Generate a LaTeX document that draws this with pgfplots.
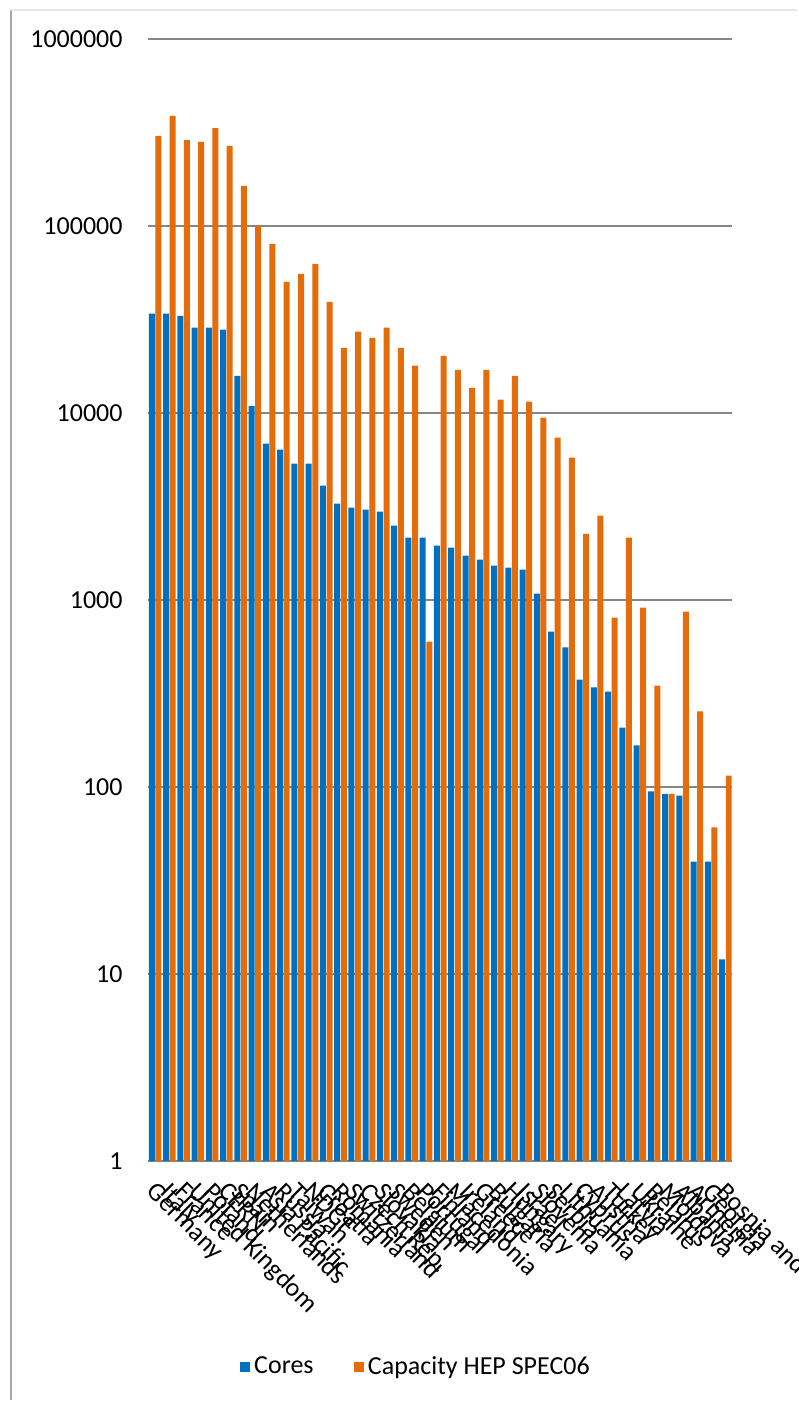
\documentclass[border=0pt]{standalone}
\usepackage{pgfplots}
\pgfplotsset{compat=1.18}
\usepackage{pgfplotstable}
\usepackage{fontspec}
\setmainfont{Carlito}
\definecolor{cblue}{RGB}{0,112,192}
\definecolor{corange}{RGB}{228,108,10}
\definecolor{gridc}{RGB}{134,134,134}
\pgfplotstableread{
x cores cap
0 34000 303000
1 34000 388000
2 33100 288000
3 28600 282000
4 28600 334000
5 27900 268000
6 15800 164000
7 10900 100000
8 6860 80300
9 6370 50300
10 5360 55500
11 5360 62800
12 4090 39300
13 3280 22300
14 3120 27200
15 3040 25200
16 2970 28600
17 2500 22300
18 2160 17900
19 2160 600
20 1955 20200
21 1907 17000
22 1730 13650
23 1645 17000
24 1528 11800
25 1492 15800
26 1456 11500
27 1083 9440
28 679 7380
29 558 5770
30 376 2260
31 341 2830
32 324 806
33 208 2160
34 167 912
35 95 349
36 92 92
37 90 868
38 40 254
39 40 61
40 12 115
}\datatable
\begin{document}
\begin{tikzpicture}
\begin{axis}[
  at={(74pt,119.5pt)}, anchor=south west,
  scale only axis, width=292.5pt, height=561.5pt,
  ymode=log, ymin=1, ymax=1000000,
  xmin=-0.5, xmax=40.5,
  ybar, bar width=3pt,
  ytick={1,10,100,1000,10000,100000,1000000},
  yticklabels={1,10,100,1000,10000,100000,1000000},
  yminorticks=false,
  ymajorgrids, major grid style={draw=gridc, line width=0.7pt},
  axis x line*=bottom, axis y line*=left,
  x axis line style={draw=gridc, line width=0.7pt},
  y axis line style={draw=none},
  xtick={0,...,40},
  xticklabels={Germany,Italy,France,United Kingdom,Poland,CERN,Spain,Netherlands,Asia Pacific,Russia,Taiwan,NDGF,Croatia,Romania,Switzerland,Czech Rep.,Slovakia,Sweden,Belgium,Portugal,Finland,Macedonia,Ireland,Greece,Bulgaria,Hungary,Israel,Slovenia,Serbia,Lithuania,Cyprus,Austria,Turkey,Latvia,Ukraine,Belarus,Moldova,Albania,Armenia,Georgia,Bosnia and H.},
  major tick length=0pt,
  tick label style={font=\fontsize{13}{15}\selectfont},
  yticklabel style={anchor=east, inner sep=0pt, xshift=-12.5pt},
  xticklabel style={xshift=1.4pt, yshift=-9.6pt, rotate=-45, anchor=north west, inner sep=0pt},
  legend image code/.code={\fill[#1] (0pt,-2.6pt) rectangle (5.2pt,2.6pt);},
  legend columns=2,
  legend style={draw=none, fill=none, at={(0.46,-0.1834)}, anchor=center,
    font=\fontsize{13}{15}\selectfont,
    /tikz/every even column/.append style={column sep=18pt}},
]
\addplot[fill=cblue, draw=none, bar shift=-1.6pt] table[x=x, y=cores] {\datatable};
\addplot[fill=corange, draw=none, bar shift=1.7pt] table[x=x, y=cap] {\datatable};
\legend{Cores, Capacity HEP SPEC06}
\end{axis}
\pgfresetboundingbox
\path (0,0) rectangle (399pt,700.5pt);
\draw[gray!70, line width=1pt] (5.5pt,0) -- (5.5pt,695.5pt);
\draw[gray!20, line width=0.6pt] (5.5pt,695.5pt) -- (399pt,695.5pt);
\end{tikzpicture}
\end{document}
